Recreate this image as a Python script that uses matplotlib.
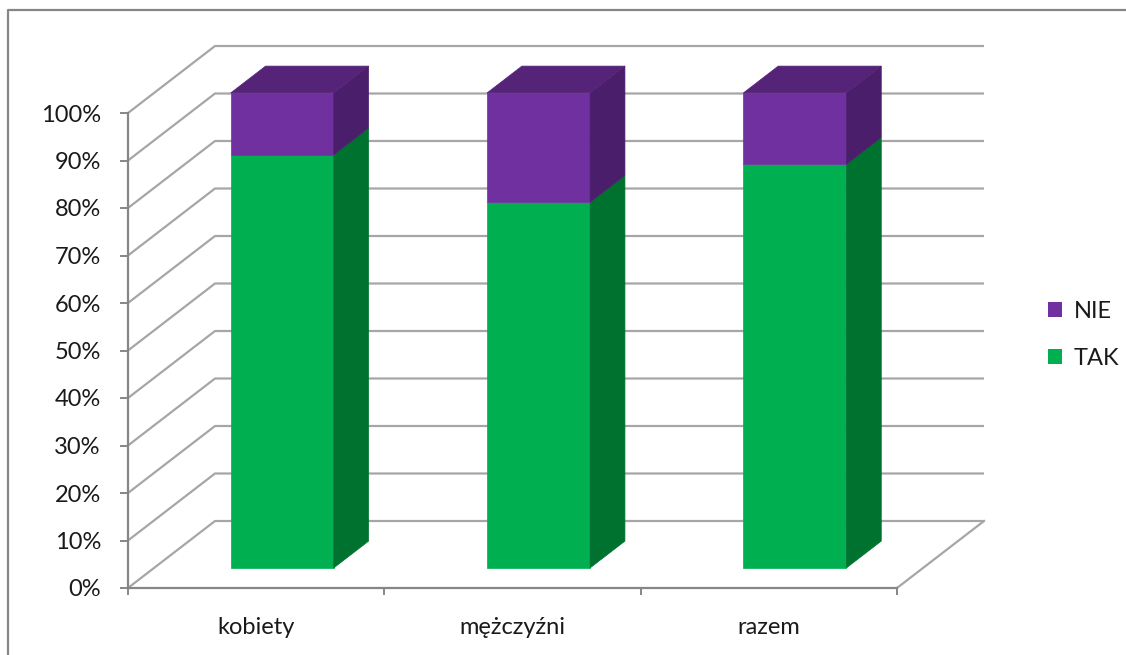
import matplotlib
matplotlib.use("Agg")
import matplotlib.pyplot as plt
from matplotlib.patches import Polygon, Patch
from matplotlib.lines import Line2D

plt.rcParams['font.family'] = ['Lato', 'DejaVu Sans']

# data
categories = ['kobiety', 'mężczyźni', 'razem']
tak = [87, 77, 85]
nie = [13, 23, 15]
series_names = ['TAK', 'NIE']
yticks = list(range(0, 101, 10))

# colours: front, side, top
green = ('#00B050', '#00722F', '#00863A')
purple = ('#7030A0', '#4A1E6B', '#552479')
grid_col = '#A6A6A6'
axis_col = '#868686'

W, H = 1126, 655
fig = plt.figure(figsize=(W / 100, H / 100), dpi=100)
# front axis: x 128..897 px, y 0% at 588 px, 100% at 113 px
ax = fig.add_axes([128 / W, (H - 588) / H, (897 - 128) / W, (588 - 113) / H])
ax.set_xlim(0, len(categories))
ax.set_ylim(0, 100)

# oblique depth offset of the whole floor (in data units)
DX = 87 / 256.3
DY = 67 / 4.75


def proj(x, y, d):
    return (x + d * DX, y + d * DY)


# back wall + side wall gridlines
for v in yticks:
    p0 = proj(0, v, 0)
    p1 = proj(0, v, 1)
    p2 = proj(len(categories), v, 1)
    ax.plot([p0[0], p1[0], p2[0]], [p0[1], p1[1], p2[1]], color=grid_col,
            lw=1.6, clip_on=False, zorder=1, solid_capstyle='butt')
# right edge of the floor
f0 = proj(len(categories), 0, 0)
f1 = proj(len(categories), 0, 1)
ax.plot([f0[0], f1[0]], [f0[1], f1[1]], color=grid_col, lw=1.6, clip_on=False, zorder=1)

# bars
half = 0.201
d0, d1 = 0.3, 0.7
for i, cat in enumerate(categories):
    x0 = i + 0.5 - half
    x1 = i + 0.5 + half
    segs = [(0, tak[i], green), (tak[i], tak[i] + nie[i], purple)]
    for k, (b, t, cols) in enumerate(segs):
        front = [proj(x0, b, d0), proj(x1, b, d0), proj(x1, t, d0), proj(x0, t, d0)]
        side = [proj(x1, b, d0), proj(x1, b, d1), proj(x1, t, d1), proj(x1, t, d0)]
        ax.add_patch(Polygon(front, closed=True, fc=cols[0], ec=cols[0], lw=0.5,
                             clip_on=False, zorder=3))
        ax.add_patch(Polygon(side, closed=True, fc=cols[1], ec=cols[1], lw=0.5,
                             clip_on=False, zorder=3))
        if k == len(segs) - 1:
            top = [proj(x0, t, d0), proj(x1, t, d0), proj(x1, t, d1), proj(x0, t, d1)]
            ax.add_patch(Polygon(top, closed=True, fc=cols[2], ec=cols[2], lw=0.5,
                                 clip_on=False, zorder=3))

# axes styling
for s in ['top', 'right']:
    ax.spines[s].set_visible(False)
for s in ['left', 'bottom']:
    ax.spines[s].set_color(axis_col)
    ax.spines[s].set_linewidth(1.6)
    ax.spines[s].set_zorder(2)
ax.set_facecolor('none')
ax.set_yticks(yticks)
ax.set_yticklabels([f'{v}%' for v in yticks])
ax.tick_params(axis='y', length=6, width=1.4, color=axis_col, pad=13.5,
               labelsize=17, labelcolor='#1a1a1a')
ax.set_xticks(range(len(categories) + 1))
ax.set_xticklabels([])
ax.tick_params(axis='x', which='major', length=5, width=1.4, color=axis_col)
ax.set_xticks([i + 0.5 for i in range(len(categories))], minor=True)
ax.set_xticklabels(categories, minor=True)
ax.tick_params(axis='x', which='minor', length=0, pad=21, labelsize=17,
               labelcolor='#1a1a1a')

# legend
handles = [Patch(fc=purple[0], ec='none', label=series_names[1]),
           Patch(fc=green[0], ec='none', label=series_names[0])]
fig.legend(handles=handles, loc='center left',
           bbox_to_anchor=(1048 / W, 1 - 335 / H), frameon=False,
           borderpad=0, borderaxespad=0,
           fontsize=17, handlelength=0.6, handleheight=0.6,
           handletextpad=0.5, labelspacing=1.1, labelcolor='#1a1a1a')

# chart border (only top and left visible)
fig.add_artist(Line2D([8 / W, 8 / W, 1.0], [0.0, 1 - 10 / H, 1 - 10 / H],
                      transform=fig.transFigure, color=axis_col, lw=1.6))

fig.savefig('out.png', dpi=100)
